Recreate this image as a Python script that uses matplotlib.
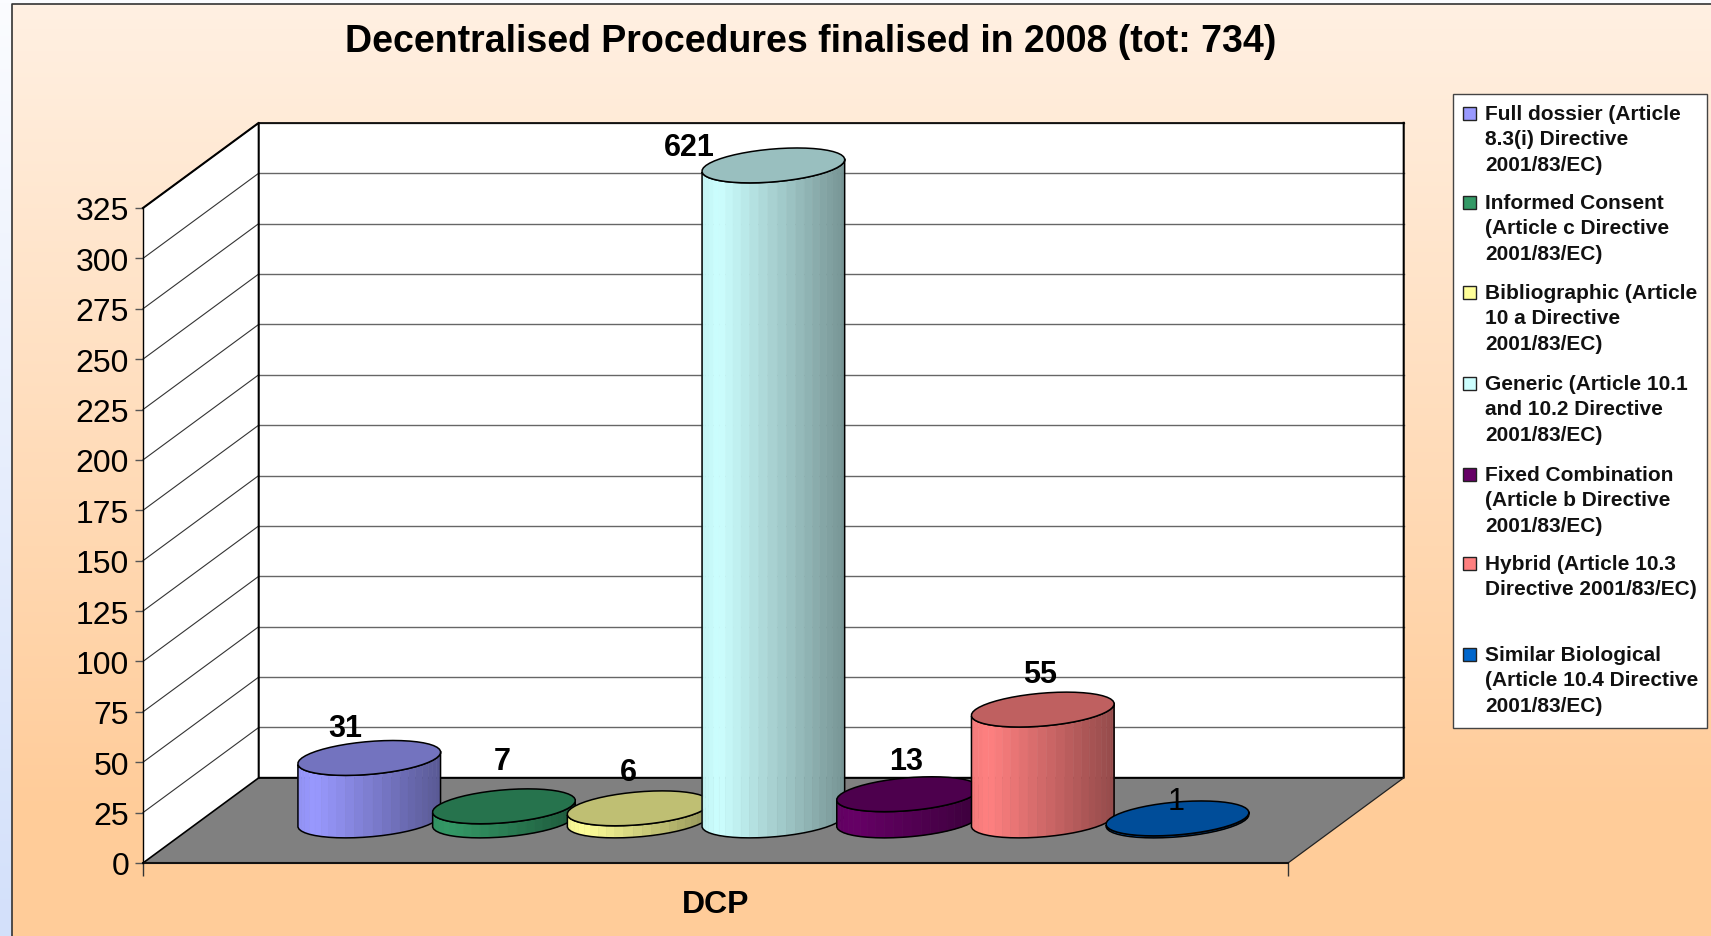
#!/usr/bin/python3
import numpy as np
import matplotlib
matplotlib.use('Agg')
from matplotlib import pyplot as plt
from matplotlib.colors import LinearSegmentedColormap, to_rgb
from matplotlib.patches import Polygon, Rectangle

categories = ['Full dossier (Article\n8.3(i) Directive\n2001/83/EC)',
              'Informed Consent\n(Article c Directive\n2001/83/EC)',
              'Bibliographic (Article\n10 a Directive\n2001/83/EC)',
              'Generic (Article 10.1\nand 10.2 Directive\n2001/83/EC)',
              'Fixed Combination\n(Article b Directive\n2001/83/EC)',
              'Hybrid (Article 10.3\nDirective 2001/83/EC)',
              'Similar Biological\n(Article 10.4 Directive\n2001/83/EC)']
values = [31, 7, 6, 621, 13, 55, 1]
colors = ['#9999FF', '#339966', '#FFFF99', '#CCFFFF', '#660066', '#FF8080', '#0066CC']
y_ticks = list(range(0, 326, 25))
y_max = 325

# hand placed data labels, pixels from the middle of the cylinder top
label_dx = [-24, -2, -10, -84, -2, -3, -1]
label_dy = [30, 45, 36, 18, 33, 36, 17]
legend_rows = [114, 203, 293, 384, 475, 564, 655]

W, H = 1711, 937
plt.rcParams['font.family'] = ['Liberation Sans', 'DejaVu Sans']
fig = plt.figure(figsize=(W / 100, H / 100), dpi=100)

# background, legend box, title are all in pixels
bg = fig.add_axes([0, 0, 1, 1], zorder=0)
bg.axis('off')
page = LinearSegmentedColormap.from_list('page', ['#FBFCFF', '#D3E0FA'])
bg.imshow(np.linspace(0, 1, 256)[:, None], cmap=page, extent=(0, W, H, 0), aspect='auto')
peach = LinearSegmentedColormap.from_list('peach', ['#FFF0E2', '#FFCC99'])
grad = np.clip(np.linspace(0, 1.15, 256), 0, 1)[:, None]
bg.imshow(grad, cmap=peach, extent=(12, W, H, 5), aspect='auto')
bg.plot([12, 12, W], [H, 5, 5], c='#333333', lw=1.2)
bg.add_patch(Rectangle((1453, 95), 254, 634, fc='white', ec='#444444', lw=1, zorder=3))
for i, name in enumerate(categories):
    row = legend_rows[i]
    bg.add_patch(Rectangle((1463, row - 6), 13, 13, fc=colors[i], ec='#222222', lw=1, zorder=4))
    bg.text(1485, row - 9, name, fontsize=15, fontweight='bold', va='top', ha='left',
            linespacing=1.43, zorder=4, color='#111111')
bg.text(811, 42, 'Decentralised Procedures finalised in 2008 (tot: 734)', fontsize=27,
        fontweight='bold', ha='center', va='center')
bg.set_xlim(0, W)
bg.set_ylim(H, 0)

# main axes is the front plane of the 3d box
ax = fig.add_axes([143 / W, 1 - 864 / H, (1288 - 143) / W, (864 - 209) / H], zorder=1)
ax.patch.set_visible(False)
ax.set_xlim(-1.25, 7.25)
ax.set_ylim(0, y_max)
DX, DY = 0.859, 42.25
x0, x1 = ax.get_xlim()

ax.add_patch(Polygon([(x0, 0), (x0 + DX, DY), (x1 + DX, DY), (x1, 0)], fc='#808080', ec='none',
                     zorder=1, clip_on=False))
ax.add_patch(Polygon([(x0, 0), (x0 + DX, DY), (x0 + DX, y_max + DY), (x0, y_max)], fc='white',
                     ec='none', zorder=1, clip_on=False))
ax.add_patch(Rectangle((x0 + DX, DY), x1 - x0, y_max, fc='white', ec='none', zorder=1, clip_on=False))
for t in y_ticks[1:]:
    ax.plot([x0 + DX, x1 + DX], [t + DY, t + DY], c='#666666', lw=1, zorder=1.5, clip_on=False)
    ax.plot([x0, x0 + DX], [t, t + DY], c='#333333', lw=0.8, zorder=1.5, clip_on=False)
# box edges
ax.plot([x0, x0 + DX, x0 + DX, x1 + DX, x1 + DX], [y_max, y_max + DY, DY, DY, y_max + DY],
        c='black', lw=1.5, zorder=1.6, clip_on=False)
ax.plot([x0 + DX, x1 + DX], [y_max + DY, y_max + DY], c='black', lw=1.2, zorder=1.6, clip_on=False)
ax.plot([x0, x0 + DX], [0, DY], c='black', lw=1.2, zorder=1.6, clip_on=False)
ax.plot([x1, x1 + DX], [0, DY], c='#222222', lw=0.9, zorder=1.6, clip_on=False)
ax.plot([x0, x1], [0, 0], c='#111111', lw=1.5, zorder=1.6, clip_on=False)
ax.plot([x0, x0], [0, y_max], c='black', lw=1, zorder=1.6, clip_on=False)


def outline(i, level):
    # circle on the floor plane seen in the oblique projection
    t = np.linspace(0, 2 * np.pi, 49)
    x = i + 0.5 * DX + 0.5 * np.cos(t) + 0.205 * DX * np.sin(t)
    y = level + 0.5 * DY + 0.205 * DY * np.sin(t)
    return x, y


for i, v in enumerate(values):
    c = np.array(to_rgb(colors[i]))
    h = min(v, y_max)
    bx, by = outline(i, 0)
    tx, ty = outline(i, h)
    left = bx.argmin()
    right = bx.argmax()
    idx = [(left + k) % 48 for k in range(((right - left) % 48) + 1)]
    for a, b in zip(idx[:-1], idx[1:]):
        frac = ((bx[a] + bx[b]) / 2 - bx.min()) / (bx.max() - bx.min())
        shade = 0.95 + frac / 0.12 * 0.05 if frac < 0.12 else 1 - (frac - 0.12) / 0.88 * 0.42
        ax.add_patch(Polygon([(bx[a], by[a]), (bx[b], by[b]), (tx[b], ty[b]), (tx[a], ty[a])],
                             fc=c * shade, ec=c * shade, lw=0.4, zorder=3 + i, clip_on=False))
    body = [(bx[k], by[k]) for k in idx] + [(tx[k], ty[k]) for k in idx[::-1]]
    ax.add_patch(Polygon(body, fc='none', ec='black', lw=1.1, zorder=3 + i, clip_on=False))
    ax.add_patch(Polygon(np.column_stack([tx, ty]), fc=c * 0.75, ec='black', lw=1.1, zorder=3 + i,
                         clip_on=False))
    ax.annotate(str(v), (i + 0.5 * DX, h + 0.5 * DY),
                xytext=(label_dx[i] * 0.72, label_dy[i] * 0.72), textcoords='offset points',
                ha='center', va='center', fontsize=22, zorder=20, annotation_clip=False,
                fontweight='normal' if v == 1 else 'bold')

for s in ['top', 'right', 'left', 'bottom']:
    ax.spines[s].set_visible(False)
ax.set_yticks(y_ticks)
ax.tick_params(axis='y', labelsize=23, length=5.5, width=1, color='#555555', pad=4.5)
ax.set_xticks([x0, x1])
ax.set_xticklabels(['', ''])
ax.tick_params(axis='x', length=9, width=1, color='#333333')
ax.set_xlabel('DCP', fontsize=23, fontweight='bold', labelpad=6)

fig.savefig('out.png', dpi=100)
